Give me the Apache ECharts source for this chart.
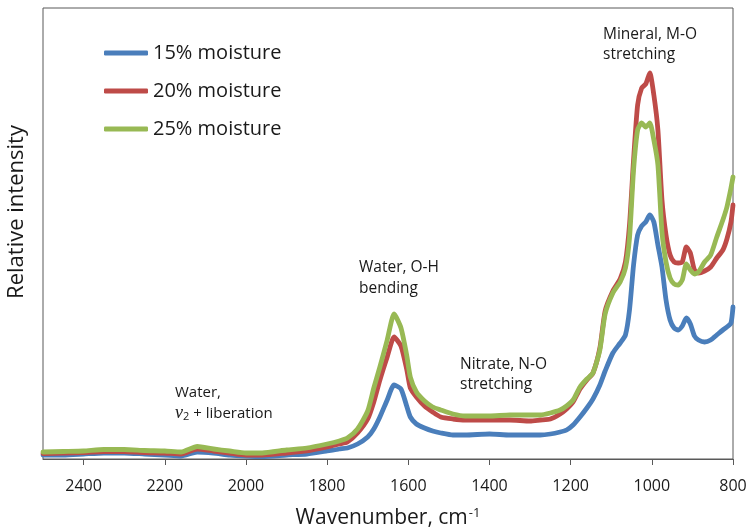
<!DOCTYPE html>
<html><head><meta charset="utf-8">
<script src="https://cdn.jsdelivr.net/npm/echarts@6/dist/echarts.min.js"></script>
<style>html,body{margin:0;padding:0;background:#fff}#c{width:748px;height:527px}</style>
</head><body><div id="c"></div>
<script>
const wavenumbers = [2500,2450,2400,2350,2300,2250,2200,2160,2120,2080,2040,2000,1960,1900,1850,
  1800,1770,1750,1725,1700,1685,1670,1652,1635,1618,
  1604,1595,1580,1560,1540,1520,1490,1460,1400,1350,
  1300,1275,1250,1226,1210,1194,1177,1160,1145,1128,
  1115,1096,1078,1065,1055,1045,1035,1025,1015,1005,
  995,985,975,965,955,945,935,925,915,905,
  895,885,870,855,840,825,815,805,800];
const moisture15 = [4,4,5,6,6,5,4,3,7,6,4,3,2.5,4,5,
  8,10,11,15,22,30,42,59,74,70,
  53,42,35,31,28,26,24,24,25,24,
  24,24,25,27,29,34,42,51,60,74,
  88,106,116,124,149,194,224,233,237,244,
  237,214,192,159,139,131,129,133,141,135,
  123,119,117,119,124,129,132,136,152];
const moisture20 = [5.5,6,6.5,7.5,7.5,6.5,6,5,10,8,6,4,4,6,8,
  12,15,17,26,40,57,79,102,122,113,
  90,71,62,53,47,42,40,39,39,39,
  38,39,40,45,50,57,70,79,86,111,
  148,168,180,197,234,299,354,371,375,386,
  364,329,259,224,204,197,196,197,212,206,
  189,186,188,192,201,209,220,237,254];
const moisture25 = [7,7.5,8,9.5,9.5,8.5,8,7,12.5,10,8,6,6,9,11,
  15,18,21,30,48,71,92,119,145,131,
  104,82,67,58,52,49,45,43,43,44,
  44,44,46,49,53,59,72,80,86,109,
  145,166,177,191,221,289,329,336,332,336,
  319,294,227,197,181,175,174,179,195,189,
  185,187,197,204,222,239,252,271,282];
const seriesNames = ['15% moisture','20% moisture','25% moisture'];
const tickValues = [800,1000,1200,1400,1600,1800,2000,2200,2400];
const colors = ['#4A7EBB','#BE4B48','#98B954'];

const font = 'Open Sans';
const chart = echarts.init(document.getElementById('c'), null, {renderer:'canvas'});
const allData = [moisture15, moisture20, moisture25];
chart.setOption({
  animation: false,
  backgroundColor: '#fff',
  textStyle: {fontFamily: font},
  grid: {left: 43, right: 15, top: 8, bottom: 68, show: true, borderColor: '#595959', borderWidth: 1,
    containLabel: false, outerBoundsMode: 'none'},
  legend: {
    orient: 'vertical', left: 104, top: 42, padding: 0, itemGap: 16,
    itemWidth: 44, itemHeight: 5, icon: 'roundRect',
    textStyle: {fontFamily: font, fontSize: 20, color: '#1a1a1a', lineHeight: 22},
    data: seriesNames
  },
  xAxis: {
    type: 'value', min: 800, max: 2500, interval: 200, inverse: true,
    axisLine: {lineStyle: {color: '#595959', width: 1}},
    axisTick: {show: true, length: 6, customValues: tickValues, lineStyle: {color: '#595959'}},
    axisLabel: {customValues: tickValues, fontSize: 16, color: '#1a1a1a', margin: 19, fontFamily: font,
      formatter: v => String(v)},
    splitLine: {show: false},
    name: 'Wavenumber, cm{sup|-1}', nameLocation: 'middle', nameGap: 48,
    nameTextStyle: {fontSize: 21, color: '#1a1a1a', fontFamily: font,
      rich: {sup: {fontSize: 13, color: '#1a1a1a', fontFamily: font, verticalAlign: 'top', padding: [0,0,10,1]}}}
  },
  yAxis: {
    type: 'value', min: 0, max: 451,
    axisLine: {show: false}, axisTick: {show: false}, axisLabel: {show: false}, splitLine: {show: false}
  },
  series: seriesNames.map((n, k) => ({
    name: n, type: 'line', smooth: 0.2, showSymbol: false, symbol: 'none',
    color: colors[k],
    lineStyle: {width: 4.8, color: colors[k], cap: 'round', join: 'round'},
    data: wavenumbers.map((w, i) => [w, allData[k][i]])
  })),
  graphic: [
    {type: 'text', x: 17, y: 212, rotation: Math.PI / 2,
      style: {text: 'Relative intensity', fontFamily: font, fontSize: 22, fill: '#1a1a1a', textAlign: 'center', textVerticalAlign: 'middle'}},
    {type: 'text', x: 175, y: 382,
      style: {text: 'Water,\n{v|ν}{s|2} + liberation', fontFamily: font, fontSize: 15, fill: '#1a1a1a', lineHeight: 21, textVerticalAlign: 'top',
        rich: {v: {fontFamily: 'Liberation Serif', fontStyle: 'italic', fontSize: 18, fill: '#1a1a1a'},
               s: {fontFamily: font, fontSize: 11, fill: '#1a1a1a', padding: [7,0,0,0]}}}},
    {type: 'text', x: 359, y: 257,
      style: {text: 'Water, O-H\nbending', fontFamily: font, fontSize: 15.5, fill: '#1a1a1a', lineHeight: 21, textVerticalAlign: 'top'}},
    {type: 'text', x: 460, y: 355,
      style: {text: 'Nitrate, N-O\nstretching', fontFamily: font, fontSize: 15.5, fill: '#1a1a1a', lineHeight: 20, textVerticalAlign: 'top'}},
    {type: 'text', x: 603, y: 25,
      style: {text: 'Mineral, M-O\nstretching', fontFamily: font, fontSize: 15.5, fill: '#1a1a1a', lineHeight: 20, textVerticalAlign: 'top'}}
  ]
});
</script></body></html>
